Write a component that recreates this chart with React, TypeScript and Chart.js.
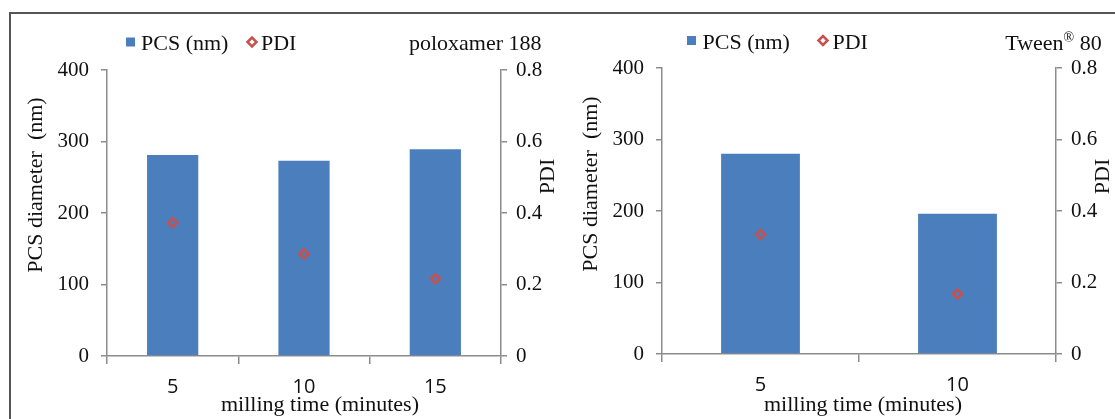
import React, { useEffect, useRef } from "react";
import { Chart, registerables } from "chart.js";

Chart.register(...registerables);

// ---------- data ----------
const poloxamerTimes = ["5", "10", "15"];
const poloxamerPCS = [281, 273, 289];
const poloxamerPDI = [0.373, 0.286, 0.216];

const tweenTimes = ["5", "10"];
const tweenPCS = [280, 196];
const tweenPDI = [0.334, 0.168];

const pcsRange = [0, 400];
const pcsStep = 100;
const pdiRange = [0, 0.8];
const pdiStep = 0.2;

const seriesNames = ["PCS (nm)", "PDI"];
const xTitle = "milling time (minutes)";
const yTitle = "PCS diameter  (nm)";
const y1Title = "PDI";

// ---------- style ----------
const BLUE = "#4a7ebd";
const RED = "#c8504d";
const AXIS = "#8c8c8c";
const TEXT = "#111111";
const SERIF = '"Liberation Serif", "Times New Roman", serif';
const SANS = '"Open Sans", "Liberation Sans", sans-serif';

type Panel = {
  labels: string[];
  pcs: number[];
  pdi: number[];
  note: string;
  noteSup?: string;
  noteTail?: string;
  canvasX: number;
  canvasW: number;
  top: number;
  xH: number;
  leftW: number;
  rightW: number;
  barPct: number;
  lg: { sqX: number; sqY: number; sq: number; t1X: number; dX: number; dY: number; t2X: number; base: number };
  noteRight: number;
  yT: [number, number];
  y1T: [number, number];
  xT: [number, number];
};

const panels: Panel[] = [
  {
    labels: poloxamerTimes,
    pcs: poloxamerPCS,
    pdi: poloxamerPDI,
    note: "poloxamer 188",
    canvasX: 0,
    canvasW: 565,
    top: 70,
    xH: 63,
    leftW: 107,
    rightW: 64,
    barPct: 0.39,
    lg: { sqX: 126, sqY: 37.5, sq: 9, t1X: 141, dX: 252, dY: 42, t2X: 261, base: 50 },
    noteRight: 541.5,
    yT: [42, 185],
    y1T: [553.5, 176.5],
    xT: [320, 411],
  },
  {
    labels: tweenTimes,
    pcs: tweenPCS,
    pdi: tweenPDI,
    note: "Tween",
    noteSup: "®",
    noteTail: " 80",
    canvasX: 565,
    canvasW: 550,
    top: 68,
    xH: 65,
    leftW: 97,
    rightW: 59,
    barPct: 0.4,
    lg: { sqX: 122, sqY: 36, sq: 9, t1X: 137.5, dX: 258, dY: 40.5, t2X: 267.5, base: 48.5 },
    noteRight: 536.7,
    yT: [31.8, 184],
    y1T: [543.6, 176.5],
    xT: [298, 411],
  },
];

const panelTextPlugin = {
  id: "panelText",
  afterDraw(chart: any, _args: any, opts: any) {
    const p: Panel = opts.panel;
    if (!p) return;
    const ctx: CanvasRenderingContext2D = chart.ctx;
    const ds = chart.data.datasets;
    ctx.save();
    ctx.fillStyle = TEXT;
    ctx.font = `22px ${SERIF}`;
    ctx.textBaseline = "alphabetic";
    ctx.textAlign = "left";

    // legend: bar series
    ctx.fillStyle = ds[0].backgroundColor;
    ctx.fillRect(p.lg.sqX, p.lg.sqY, p.lg.sq, p.lg.sq);
    ctx.fillStyle = TEXT;
    ctx.fillText(ds[0].label, p.lg.t1X, p.lg.base);
    // legend: PDI series (open diamond)
    const r = 4.5;
    ctx.beginPath();
    ctx.moveTo(p.lg.dX - r, p.lg.dY);
    ctx.lineTo(p.lg.dX, p.lg.dY - r);
    ctx.lineTo(p.lg.dX + r, p.lg.dY);
    ctx.lineTo(p.lg.dX, p.lg.dY + r);
    ctx.closePath();
    ctx.lineWidth = 2.5;
    ctx.strokeStyle = ds[1].pointBorderColor;
    ctx.stroke();
    ctx.fillText(ds[1].label, p.lg.t2X, p.lg.base);

    // annotation (top right)
    ctx.textAlign = "left";
    const mainW = ctx.measureText(p.note).width;
    let supW = 0;
    let tailW = 0;
    if (p.noteSup) {
      ctx.font = `14px ${SERIF}`;
      supW = ctx.measureText(p.noteSup).width;
      ctx.font = `22px ${SERIF}`;
      tailW = ctx.measureText(p.noteTail || "").width;
    }
    let x = p.noteRight - mainW - supW - tailW;
    ctx.fillText(p.note, x, 50);
    x += mainW;
    if (p.noteSup) {
      ctx.font = `14px ${SERIF}`;
      ctx.fillText(p.noteSup, x, 42);
      x += supW;
      ctx.font = `22px ${SERIF}`;
      ctx.fillText(p.noteTail || "", x, 50);
    }

    // axis titles
    ctx.textAlign = "center";
    ctx.fillText(xTitle, p.xT[0], p.xT[1]);
    const rot = (t: string, cx: number, cy: number) => {
      ctx.save();
      ctx.translate(cx, cy);
      ctx.rotate(-Math.PI / 2);
      ctx.textAlign = "center";
      ctx.textBaseline = "alphabetic";
      ctx.fillText(t, 0, 0);
      ctx.restore();
    };
    rot(yTitle, p.yT[0], p.yT[1]);
    rot(y1Title, p.y1T[0], p.y1T[1]);
    ctx.restore();
  },
};

function PanelChart({ p }: { p: Panel }) {
  const ref = useRef<HTMLCanvasElement>(null);
  useEffect(() => {
    const chart = new Chart(ref.current as HTMLCanvasElement, {
      type: "bar",
      data: {
        labels: p.labels,
        datasets: [
          {
            type: "bar",
            label: seriesNames[0],
            data: p.pcs,
            backgroundColor: BLUE,
            borderWidth: 0,
            yAxisID: "y",
            categoryPercentage: 1,
            barPercentage: p.barPct,
            order: 2,
          } as any,
          {
            type: "line",
            label: seriesNames[1],
            data: p.pdi,
            yAxisID: "y1",
            showLine: false,
            pointStyle: "rectRot",
            pointRadius: 4.5,
            pointBorderWidth: 2.5,
            pointBorderColor: RED,
            pointBackgroundColor: "rgba(0,0,0,0)",
            borderColor: RED,
            backgroundColor: "rgba(0,0,0,0)",
            order: 1,
          } as any,
        ],
      },
      options: {
        responsive: false,
        animation: false,
        events: [],
        layout: { padding: { top: p.top, left: 0, right: 0, bottom: 0 } },
        plugins: {
          legend: { display: false },
          tooltip: { enabled: false },
          title: { display: false },
          panelText: { panel: p },
        } as any,
        scales: {
          x: {
            type: "category",
            offset: true,
            grid: {
              display: true,
              offset: true,
              drawOnChartArea: false,
              drawTicks: true,
              tickLength: 8,
              color: AXIS,
              lineWidth: 1.5,
            },
            border: { display: true, color: AXIS, width: 1.5 },
            ticks: { color: TEXT, font: { family: SANS, size: 20 }, padding: 11, maxRotation: 0 },
            afterFit: (s: any) => {
              s.height = p.xH;
            },
          },
          y: {
            position: "left",
            min: pcsRange[0],
            max: pcsRange[1],
            grid: { drawOnChartArea: false, drawTicks: true, tickLength: 6, color: AXIS, lineWidth: 1.5 },
            border: { display: true, color: AXIS, width: 1.5 },
            ticks: { stepSize: pcsStep, color: TEXT, font: { family: SERIF, size: 21 }, padding: 12 },
            afterFit: (s: any) => {
              s.width = p.leftW;
            },
          },
          y1: {
            position: "right",
            min: pdiRange[0],
            max: pdiRange[1],
            grid: { drawOnChartArea: false, drawTicks: true, tickLength: 6, color: AXIS, lineWidth: 1.5 },
            border: { display: true, color: AXIS, width: 1.5 },
            ticks: {
              stepSize: pdiStep,
              color: TEXT,
              font: { family: SERIF, size: 21 },
              padding: 9,
              callback: (v: any) => (Number(v) === 0 ? "0" : Number(v).toFixed(1)),
            },
            afterFit: (s: any) => {
              s.width = p.rightW;
            },
          },
        },
      } as any,
      plugins: [panelTextPlugin],
    });
    return () => chart.destroy();
  }, [p]);
  return (
    <canvas
      ref={ref}
      width={p.canvasW}
      height={419}
      style={{ position: "absolute", left: p.canvasX, top: 0, width: p.canvasW, height: 419 }}
    />
  );
}

export default function App() {
  return (
    <div style={{ position: "absolute", left: 0, top: 0, width: 1115, height: 419, background: "#fff", overflow: "hidden" }}>
      <div
        style={{
          position: "absolute",
          left: 9,
          top: 12,
          width: 1115 - 9,
          height: 419 - 12,
          borderTop: "2px solid #555",
          borderLeft: "2px solid #555",
          boxSizing: "border-box",
        }}
      />
      {panels.map((p, i) => (
        <PanelChart key={i} p={p} />
      ))}
    </div>
  );
}
